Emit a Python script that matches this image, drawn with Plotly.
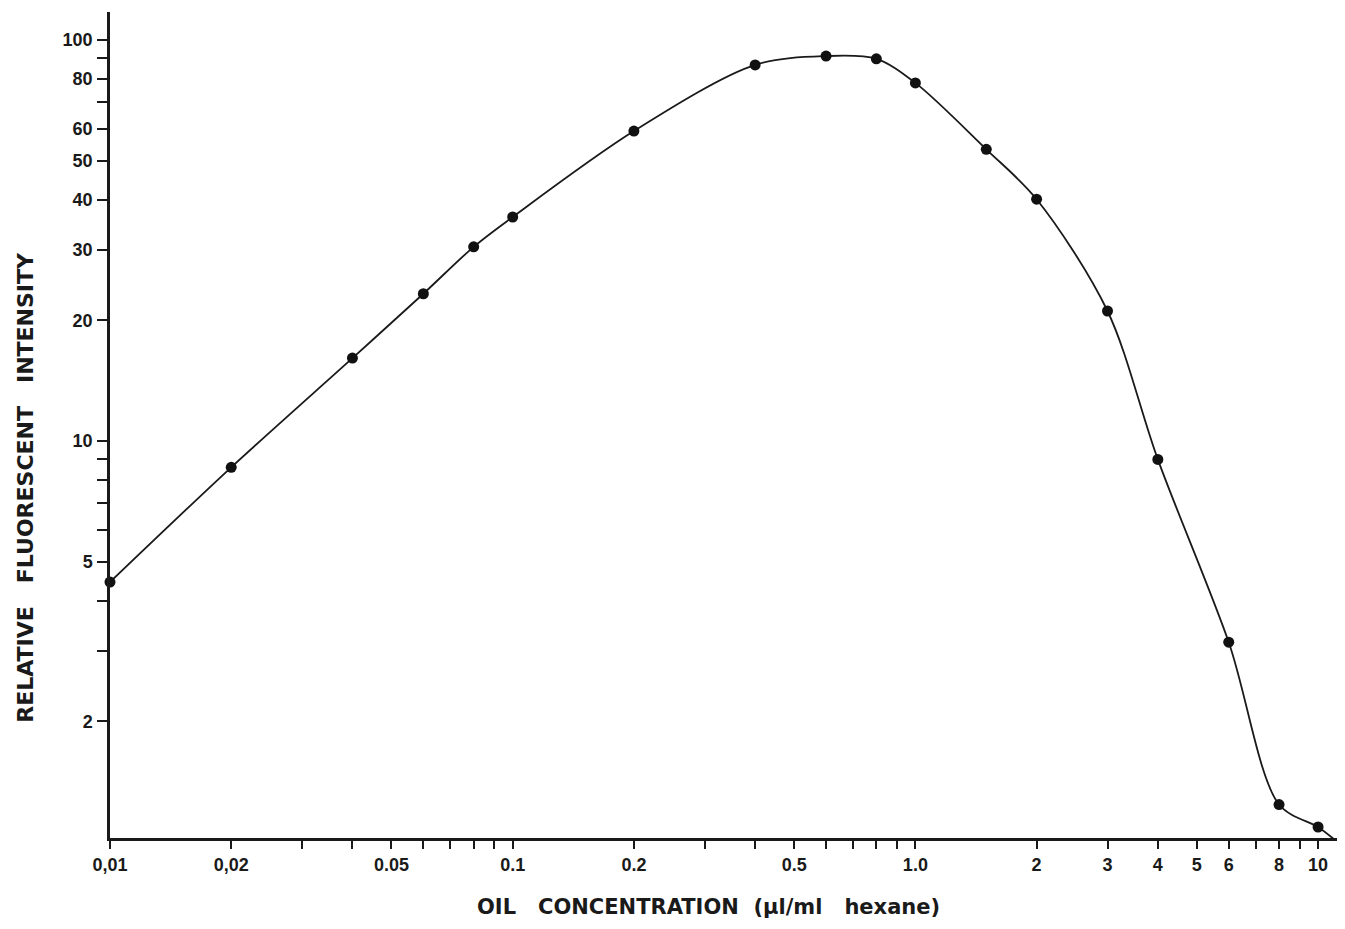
import plotly.graph_objects as go

# Data
concentration = [0.01, 0.02, 0.04, 0.06, 0.08, 0.1, 0.2, 0.4, 0.6, 0.8, 1.0, 1.5, 2.0, 3.0, 4.0, 6.0, 8.0, 10.0]
intensity = [4.45, 8.6, 16.1, 23.3, 30.5, 36.2, 59.3, 86.7, 91.2, 89.8, 78.2, 53.4, 40.1, 21.1, 9.0, 3.15, 1.24, 1.09]
# drawn curve continues a little past the last point down to the axis
curve_tail_x = [10.9]
curve_tail_y = [1.02]

x_tick_vals = [0.01, 0.02, 0.03, 0.04, 0.05, 0.06, 0.07, 0.08, 0.09,
               0.1, 0.2, 0.3, 0.4, 0.5, 0.6, 0.7, 0.8, 0.9,
               1, 2, 3, 4, 5, 6, 7, 8, 9, 10]
x_tick_text = ["0,01", "0,02", "", "", "0.05", "", "", "", "",
               "0.1", "0.2", "", "", "0.5", "", "", "", "",
               "1.0", "2", "3", "4", "5", "6", "", "8", "", "10"]
y_tick_vals = [2, 3, 4, 5, 6, 7, 8, 9, 10, 20, 30, 40, 50, 60, 70, 80, 90, 100]
y_tick_text = ["2", "", "", "5", "", "", "", "", "10", "20", "30", "40", "50", "60", "", "80", "", "100"]

x_title = "OIL   CONCENTRATION  (µl/ml   hexane)"
y_title = "RELATIVE   FLUORESCENT   INTENSITY"

ink = "#1a1a1a"
fig = go.Figure()
fig.add_trace(go.Scatter(
    x=concentration + curve_tail_x, y=intensity + curve_tail_y,
    mode="lines", line=dict(color=ink, width=1.8, shape="spline", smoothing=0.9),
    hoverinfo="skip", showlegend=False, cliponaxis=False))
fig.add_trace(go.Scatter(
    x=concentration, y=intensity, mode="markers",
    marker=dict(color="#111111", size=11, line=dict(width=0)),
    showlegend=False, cliponaxis=False))

tick_font = dict(family="Liberation Sans Narrow, Liberation Sans, Arial, sans-serif",
                 size=18, color=ink, weight="bold")
x_title_font = dict(family="DejaVu Sans, sans-serif", size=21, color=ink, weight="bold")
y_title_font = dict(family="DejaVu Sans, sans-serif", size=22, color=ink, weight="bold")

fig.update_xaxes(
    type="log", range=[-2, 1.047],
    tickvals=x_tick_vals, ticktext=x_tick_text,
    ticks="outside", ticklen=8, tickwidth=2, tickcolor=ink,
    showline=True, linecolor=ink, linewidth=2.5,
    showgrid=False, zeroline=False, tickfont=tick_font, ticklabelstandoff=1)
fig.update_yaxes(
    type="log", range=[0.01, 2.07],
    tickvals=y_tick_vals, ticktext=y_tick_text,
    ticks="outside", ticklen=10, tickwidth=2, tickcolor=ink,
    showline=True, linecolor=ink, linewidth=2.5,
    showgrid=False, zeroline=False, tickfont=tick_font, ticklabelstandoff=1)

fig.add_annotation(text=x_title, xref="paper", yref="paper", x=0.488, y=0,
                   xanchor="center", yanchor="middle", yshift=-69,
                   showarrow=False, font=x_title_font, borderpad=0)
fig.add_annotation(text=y_title, xref="paper", yref="paper", x=0, y=0.424,
                   xanchor="center", yanchor="middle", xshift=-84, textangle=-90,
                   showarrow=False, font=y_title_font, borderpad=0)

# page body has an 8px margin; size and margins compensate so the plot area
# lands where it does in the reference and no scrollbars appear
fig.update_layout(
    width=1329, height=913,
    margin=dict(l=102, r=0, t=4, b=83),
    paper_bgcolor="white", plot_bgcolor="white",
    font=tick_font)

fig.write_html("out.html")
